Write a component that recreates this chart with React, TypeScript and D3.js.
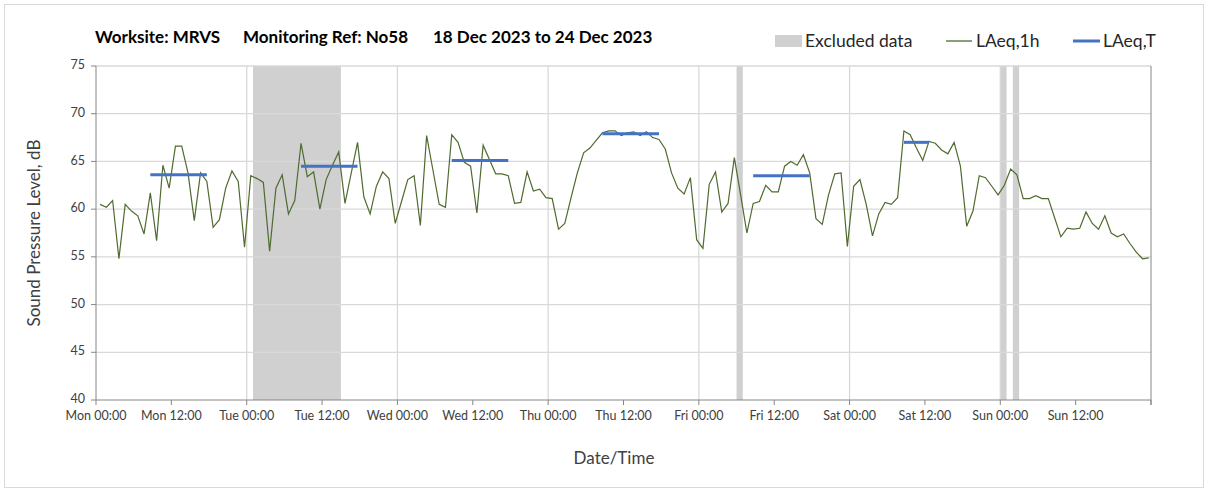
import * as d3 from "d3";

const W = 1208;
const H = 492;
const MARGIN = { top: 66, left: 96, bottom: 92, right: 57 };

const parse = d3.timeParse("%Y-%m-%d %H:%M");
const axisStart = "2023-12-18 00:00";
const axisEnd = "2023-12-25 00:00";
const firstReading = "2023-12-18 00:39";

// LAeq,1h hourly values, dB
const laeq1h = [
  60.5, 60.2, 60.9, 54.8, 60.5, 59.8, 59.3, 57.4, 61.7, 56.7,
  64.6, 62.2, 66.6, 66.6, 63.8, 58.8, 63.8, 62.9, 58.1, 58.9,
  62.2, 64.0, 62.9, 56.0, 63.5, 63.2, 62.8, 55.6, 62.2, 63.6,
  59.5, 60.9, 66.9, 63.4, 63.9, 60.0, 63.1, 64.6, 66.0, 60.6,
  63.8, 67.0, 61.3, 59.5, 62.4, 63.9, 63.2, 58.5, 60.8, 63.1,
  63.5, 58.3, 67.7, 64.1, 60.5, 60.2, 67.8, 67.0, 64.9, 64.5,
  59.6, 66.7, 65.2, 63.7, 63.7, 63.5, 60.6, 60.7, 63.9, 61.9,
  62.1, 61.2, 61.1, 57.9, 58.5, 61.2, 63.8, 65.9, 66.4, 67.2,
  68.0, 68.2, 68.2, 67.7, 68.0, 68.1, 67.7, 68.1, 67.5, 67.3,
  66.3, 63.8, 62.2, 61.6, 63.3, 56.8, 55.9, 62.6, 63.9, 59.7,
  60.6, 65.4, 61.5, 57.5, 60.6, 60.8, 62.5, 61.8, 61.8, 64.5,
  65.0, 64.6, 65.7, 63.8, 59.0, 58.4, 61.5, 63.7, 63.8, 56.1,
  62.4, 63.1, 60.5, 57.2, 59.5, 60.7, 60.5, 61.2, 68.2, 67.8,
  66.4, 65.1, 67.1, 66.9, 66.2, 65.8, 67.0, 64.5, 58.2, 59.8,
  63.5, 63.3, 62.4, 61.5, 62.5, 64.2, 63.6, 61.1, 61.1, 61.4,
  61.1, 61.1, 59.1, 57.1, 58.0, 57.9, 58.0, 59.7, 58.5, 57.9,
  59.3, 57.5, 57.1, 57.4, 56.4, 55.5, 54.8, 54.9,
];

// LAeq,T periods (index of first and last hourly reading) and values
const periodFirst = [8, 32, 56, 80, 104, 128];
const periodLast = [17, 41, 65, 89, 113, 132];
const laeqT = [63.6, 64.5, 65.1, 67.9, 63.5, 67.0];

// excluded data windows
const excludedFrom = ["2023-12-19 01:00", "2023-12-22 06:00", "2023-12-24 00:00", "2023-12-24 02:00"];
const excludedTo = ["2023-12-19 15:00", "2023-12-22 07:00", "2023-12-24 01:00", "2023-12-24 03:00"];

const yTicks = [40, 45, 50, 55, 60, 65, 70, 75];

const FONT = "Lato, 'Open Sans', sans-serif";

function App() {
  const boundsWidth = W - MARGIN.left - MARGIN.right;
  const boundsHeight = H - MARGIN.top - MARGIN.bottom;

  const xScale = d3
    .scaleTime()
    .domain([parse(axisStart)!, parse(axisEnd)!])
    .range([0, boundsWidth]);
  const yScale = d3.scaleLinear().domain([40, 75]).range([boundsHeight, 0]);

  const t0 = parse(firstReading)!;
  const readings = laeq1h.map((v, i) => ({ t: d3.timeHour.offset(t0, i), v }));

  const linePath = d3
    .line<{ t: Date; v: number }>()
    .x((d) => xScale(d.t))
    .y((d) => yScale(d.v));

  const xTicks = xScale.ticks(d3.timeHour.every(12)!);
  const fmt = d3.timeFormat("%a %H:%M");
  const dayLines = xTicks.filter((d) => d.getHours() === 0);

  return (
    <svg
      width={W}
      height={H}
      style={{ position: "absolute", left: 0, top: 0, background: "#fff" }}
      fontFamily={FONT}
    >
      <rect x={4.5} y={4.5} width={1199} height={483} fill="#fff" stroke="#d9d9d9" />

      {/* title */}
      <g fontWeight={700} fontSize={17} fill="#000">
        <text x={95} y={43}>Worksite: MRVS</text>
        <text x={243} y={43}>Monitoring Ref: No58</text>
        <text x={433} y={43}>18 Dec 2023 to 24 Dec 2023</text>
      </g>

      {/* legend */}
      <g fontSize={17.5} fill="#262626">
        <rect x={775} y={35} width={27} height={12} fill="#d0d0d0" />
        <text x={805} y={47}>Excluded data</text>
        <line x1={946} x2={972} y1={41} y2={41} stroke="#4f6b2f" strokeWidth={1.3} />
        <text x={976} y={47}>LAeq,1h</text>
        <line x1={1073} x2={1100} y1={41} y2={41} stroke="#4472c4" strokeWidth={3} />
        <text x={1103} y={47}>LAeq,T</text>
      </g>

      <g transform={`translate(${MARGIN.left},${MARGIN.top})`}>
        {/* excluded bands */}
        {excludedFrom.map((s, i) => {
          const x0 = xScale(parse(s)!);
          const x1 = xScale(parse(excludedTo[i])!);
          return (
            <rect key={i} x={x0} y={0} width={x1 - x0} height={boundsHeight} fill="#d0d0d0" />
          );
        })}

        {/* grid */}
        {yTicks.map((v) => (
          <g key={v}>
            {v > 40 && (
              <line
                x1={0}
                x2={boundsWidth}
                y1={yScale(v)}
                y2={yScale(v)}
                stroke="#d9d9d9"
                strokeWidth={1.3}
              />
            )}
            <line x1={-5} x2={0} y1={yScale(v)} y2={yScale(v)} stroke="#868686" />
            <text
              x={-11}
              y={yScale(v)}
              textAnchor="end"
              dominantBaseline="middle"
              fontSize={12.5}
              fill="#404040"
            >
              {v}
            </text>
          </g>
        ))}
        {dayLines
          .filter((d) => xScale(d) > 1 && xScale(d) < boundsWidth - 1)
          .map((d, i) => (
            <line
              key={i}
              x1={xScale(d)}
              x2={xScale(d)}
              y1={0}
              y2={boundsHeight}
              stroke="#d9d9d9"
              strokeWidth={1.3}
            />
          ))}

        {/* axes frame */}
        <line x1={0} x2={0} y1={0} y2={boundsHeight} stroke="#868686" />
        <line x1={boundsWidth} x2={boundsWidth} y1={0} y2={boundsHeight + 5} stroke="#868686" />
        <line x1={0} x2={boundsWidth} y1={boundsHeight} y2={boundsHeight} stroke="#868686" />

        {xTicks.map((d, i) => (
          <g key={i}>
            <line
              x1={xScale(d)}
              x2={xScale(d)}
              y1={boundsHeight}
              y2={boundsHeight + 5}
              stroke="#868686"
            />
            {xScale(d) < boundsWidth - 1 && (
              <text
                x={xScale(d)}
                y={boundsHeight + 20}
                textAnchor="middle"
                fontSize={12.5}
                fill="#404040"
              >
                {fmt(d)}
              </text>
            )}
          </g>
        ))}

        {/* LAeq,1h */}
        <path d={linePath(readings) ?? ""} fill="none" stroke="#4f6b2f" strokeWidth={1.2} />

        {/* LAeq,T */}
        {laeqT.map((v, i) => (
          <line
            key={i}
            x1={xScale(readings[periodFirst[i]].t)}
            x2={xScale(readings[periodLast[i]].t)}
            y1={yScale(v)}
            y2={yScale(v)}
            stroke="#4472c4"
            strokeWidth={3}
          />
        ))}
      </g>

      {/* axis titles */}
      <text
        transform={`translate(40,${MARGIN.top + boundsHeight / 2}) rotate(-90)`}
        textAnchor="middle"
        fontSize={17}
        fill="#404040"
      >
        Sound Pressure Level, dB
      </text>
      <text x={614} y={464} textAnchor="middle" fontSize={17} fill="#404040">
        Date/Time
      </text>
    </svg>
  );
}

export default App;
